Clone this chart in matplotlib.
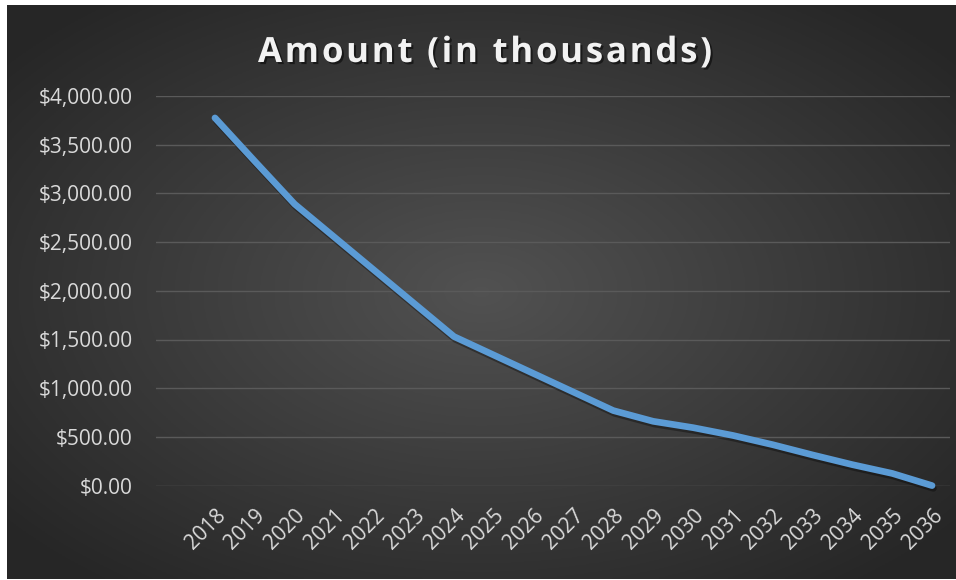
import numpy as np
import matplotlib.pyplot as plt
import matplotlib.patheffects as pe
from matplotlib.ticker import FuncFormatter

years = [str(y) for y in range(2018, 2037)]
amounts = [3775, 3330, 2890, 2550, 2210, 1870, 1530, 1340, 1150, 960, 770,
           660, 595, 515, 420, 315, 215, 125, 0]
title = "Amount (in thousands)"

plt.rcParams['font.family'] = ['Open Sans', 'DejaVu Sans']

fig = plt.figure(figsize=(9.56, 5.8), dpi=100)
fig.patch.set_facecolor("white")

# dark radial gradient panel
bg = fig.add_axes([7 / 956, 1 / 580, 949 / 956, 574 / 580])
gx, gy = np.meshgrid(np.linspace(-1, 1, 400), np.linspace(-1, 1, 250))
r = np.clip(np.sqrt(gx ** 2 + gy ** 2) / 1.3, 0, 1)
shade = 0.32 - 0.17 * r
bg.imshow(np.dstack([shade, shade, shade]), aspect="auto", extent=[0, 1, 0, 1])
bg.axis("off")

ax = fig.add_axes([156 / 956, 1 - 485.6 / 580, 794 / 956, 389.6 / 580])
ax.set_facecolor("none")

x = np.arange(len(years))
ax.plot(x, amounts, color="#5B9BD5", lw=4.8, solid_capstyle="round",
        solid_joinstyle="round", clip_on=False, zorder=3,
        path_effects=[pe.SimpleLineShadow(offset=(1, -2), alpha=0.35),
                      pe.Normal()])

ax.set_xlim(-1.48, 18.45)
ax.set_ylim(0, 4000)
ax.set_yticks(np.arange(0, 4001, 500))
ax.yaxis.set_major_formatter(FuncFormatter(lambda v, p: f"${v:,.2f}"))
ax.set_xticks(x)
ax.set_xticklabels(years, rotation=45, ha="right", va="top",
                   rotation_mode="anchor")

ax.grid(axis="y", color="#5a5a5a", lw=1)
ax.set_axisbelow(True)
for s in ax.spines.values():
    s.set_visible(False)
ax.tick_params(length=0, colors="#d9d9d9", labelsize=15)
ax.tick_params(axis="y", pad=17)
ax.tick_params(axis="x", pad=14)

# title with extra letter spacing, drawn char by char
renderer = fig.canvas.get_renderer()
tkw = dict(fontsize=25, fontweight="bold", color="#f2f2f2")
def char_w(c):
    if c == " ":
        a = fig.text(0, 0, "a a", **tkw)
        b = fig.text(0, 0, "aa", **tkw)
        w = a.get_window_extent(renderer).width - b.get_window_extent(renderer).width
        a.remove(); b.remove()
        return w
    t = fig.text(0, 0, c, **tkw)
    w = t.get_window_extent(renderer).width
    t.remove()
    return w

track = 2.8
widths = [char_w(c) for c in title]
total = sum(widths) + track * (len(title) - 1)
xpos = 485 - total / 2
shadow = [pe.withSimplePatchShadow(offset=(1.5, -1.5), shadow_rgbFace="black",
                                   alpha=0.5)]
for c, w in zip(title, widths):
    if c != " ":
        fig.text(xpos / 956, 1 - 53 / 580, c, ha="left", va="center",
                 path_effects=shadow, **tkw)
    xpos += w + track

fig.savefig("out.png", dpi=100)
